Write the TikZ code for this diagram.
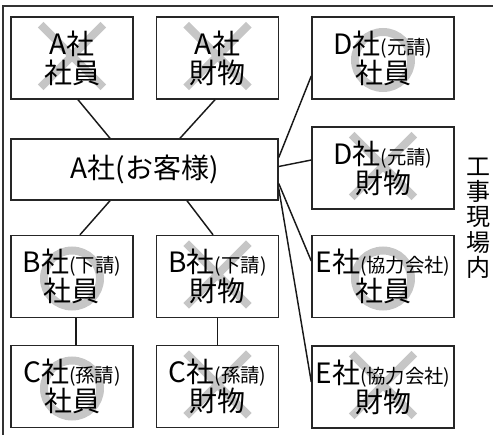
\documentclass[tikz,border=0pt]{standalone}
\usepackage{fontspec}
\setmainfont{Noto Sans CJK JP}
\usepackage{tikz}
\usetikzlibrary{calc}
\usetikzlibrary{shapes.misc}
\tikzset{box/.style={draw, line width=1.1pt, black!85, text=black, minimum width=91.5pt, minimum height=61.5pt, inner sep=0pt, align=center, font=\fontsize{21}{21.75}\selectfont}}
\tikzset{batsu/.style={cross out, draw=gray!45, line width=6pt, minimum size=41pt, inner sep=0pt}}
\tikzset{maru/.style={circle, draw=gray!45, line width=6pt, minimum size=42pt, inner sep=0pt}}
\tikzset{link/.style={draw, line width=1.1pt, black!90}}
\newcommand{\chiisai}[1]{{\fontsize{14.5}{14.5}\selectfont #1}}

\begin{document}
\begin{tikzpicture}[x=0.75pt, y=-0.75pt]
    \useasboundingbox (0,0) rectangle (496,435);
    \draw[line width=1.1pt, black!80] (3,435) -- (3,6) -- (493,6);

    % marks under the text
    \node[batsu] (xa1) at (72,56) {};
    \node[batsu] (xa2) at (217.5,56) {};
    \node[maru] (od1) at (383,60) {};
    \node[batsu] (xd2) at (383,166) {};
    \node[maru] (ob1) at (72,278.5) {};
    \node[batsu] (xb2) at (217.5,274.5) {};
    \node[maru] (oc1) at (72,388.5) {};
    \node[batsu] (xc2) at (217.5,384.5) {};
    \node[maru] (oe1) at (383,278.5) {};
    \node[batsu] (xe2) at (383,385) {};

    \node[box] (a1) at (72,58) {A社\\社員};
    \node[box] (a2) at (217.5,58) {A社\\財物};
    \node[box, minimum width=200.25pt, minimum height=45.75pt] (main) at (144.5,169.5) {A社(お客様)};
    \node[box] (b1) at (72,276.5) {B社\chiisai{(下請)}\\社員};
    \node[box] (b2) at (217.5,276.5) {B社\chiisai{(下請)}\\財物};
    \node[box] (c1) at (72,386.5) {C社\chiisai{(孫請)}\\社員};
    \node[box] (c2) at (217.5,386.5) {C社\chiisai{(孫請)}\\財物};
    \node[box, minimum width=106.5pt] (d1) at (383,58) {D社\chiisai{(元請)}\\社員};
    \node[box, minimum width=106.5pt] (d2) at (383,168) {D社\chiisai{(元請)}\\財物};
    \node[box, minimum width=106.5pt] (e1) at (383,276.5) {E社\chiisai{(協力会社)}\\社員};
    \node[box, minimum width=106.5pt] (e2) at (383,387) {E社\chiisai{(協力会社)}\\財物};

    \draw[link] ($(a1.south)+(6,0)$) -- ($(main.north)+(-34.5,0)$);
    \draw[link] ($(a2.south)+(-2.5,0)$) -- ($(main.north)+(35.5,0)$);
    \draw[link] ($(main.south)+(-34.5,0)$) -- ($(b1.north)+(8,0)$);
    \draw[link] ($(main.south)+(42.5,0)$) -- ($(b2.north)+(-4.5,0)$);
    \draw[link] ($(b1.south)+(4,0)$) -- ($(c1.north)+(4,0)$);
    \draw[link] (b2) -- (c2);
    \draw[link] ($(main.east)+(0,-12)$) -- ($(d1.west)+(0,18)$);
    \draw[link] ($(main.east)+(0,-3)$) -- ($(d2.west)+(0,-8)$);
    \draw[link] ($(main.east)+(0,14)$) -- ($(e1.west)+(0,-15.5)$);
    \draw[link] ($(main.east)+(0,19)$) -- ($(e2.west)+(0,-5)$);

    % right side label
    \node[align=center, inner sep=0pt, font=\fontsize{18}{19}\selectfont] (site) at (478,218) {工\\事\\現\\場\\内};
\end{tikzpicture}
\end{document}
